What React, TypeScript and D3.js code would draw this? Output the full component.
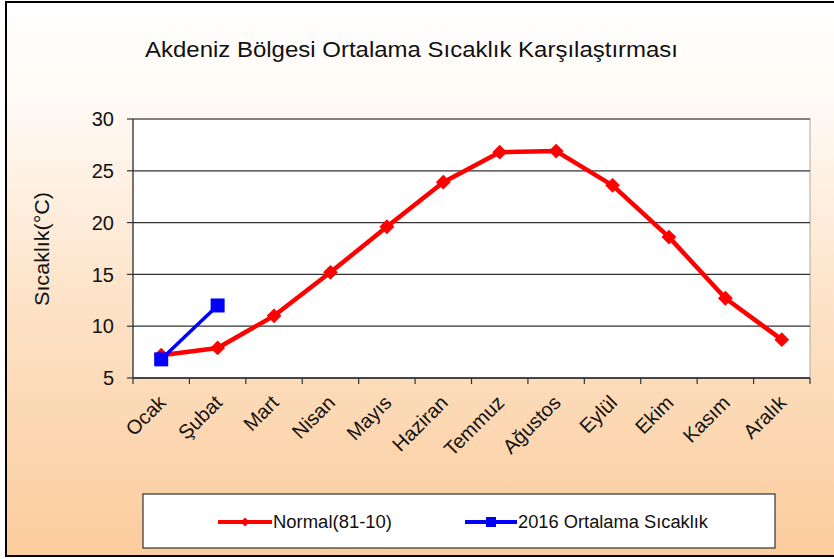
import * as d3 from "d3";

const MONTHS = ["Ocak", "Şubat", "Mart", "Nisan", "Mayıs", "Haziran", "Temmuz", "Ağustos", "Eylül", "Ekim", "Kasım", "Aralık"];
const NORMAL = [7.2, 7.9, 11.0, 15.2, 19.6, 23.9, 26.8, 26.9, 23.6, 18.6, 12.7, 8.7];
const Y2016 = [6.8, 12.0];
const Y_TICKS = [5, 10, 15, 20, 25, 30];

const W = 834;
const H = 559;
const plot = { left: 133, right: 810, top: 119, bottom: 378 };
const FONT = "'Liberation Sans', Arial, sans-serif";

export default function App() {
  const x = d3.scaleBand().domain(MONTHS).range([plot.left, plot.right]);
  const y = d3.scaleLinear().domain([5, 30]).range([plot.bottom, plot.top]);
  const cx = (m: string) => (x(m) ?? 0) + x.bandwidth() / 2;

  const line = d3.line<[string, number]>().x((d) => cx(d[0])).y((d) => y(d[1]));
  const normalPts: [string, number][] = NORMAL.map((v, i) => [MONTHS[i], v]);
  const blue: [string, number][] = Y2016.map((v, i) => [MONTHS[i], v]);
  const diamond = d3.symbol(d3.symbolDiamond2, 140)();

  const boundaries = MONTHS.map((m) => x(m) ?? 0).concat([plot.right]);

  return (
    <div style={{ position: "absolute", left: 0, top: 0 }}>
      <svg width={W} height={H} style={{ display: "block", fontFamily: FONT }}>
        <defs>
          <linearGradient id="bg" x1="0" y1="0" x2="0" y2="1">
            <stop offset="0%" stopColor="#ffffff" />
            <stop offset="18%" stopColor="#fffaf5" />
            <stop offset="55%" stopColor="#fde2c6" />
            <stop offset="100%" stopColor="#fbcc9d" />
          </linearGradient>
        </defs>
        <rect x={0} y={0} width={W} height={H} fill="#ffffff" />
        <rect x={6} y={2} width={W} height={554} fill="url(#bg)" stroke="#000" strokeWidth={2} />

        <text x={145} y={57} fontSize={22} fill="#111" textLength={533} lengthAdjust="spacingAndGlyphs">
          Akdeniz Bölgesi Ortalama  Sıcaklık Karşılaştırması
        </text>

        {/* plot area */}
        <rect x={plot.left} y={plot.top} width={plot.right - plot.left} height={plot.bottom - plot.top}
          fill="#fff" stroke="#aaa" strokeWidth={1} />
        {Y_TICKS.map((t) => (
          <g key={t}>
            <line x1={plot.left} x2={plot.right} y1={y(t)} y2={y(t)} stroke="#333" strokeWidth={1.2} />
            <line x1={plot.left - 6} x2={plot.left} y1={y(t)} y2={y(t)} stroke="#333" strokeWidth={1.2} />
            <text x={plot.left - 19} y={y(t)} dy="0.36em" textAnchor="end" fontSize={20} fill="#111">{t}</text>
          </g>
        ))}
        <line x1={plot.left} x2={plot.left} y1={plot.top} y2={plot.bottom} stroke="#333" strokeWidth={1.2} />
        <line x1={plot.left} x2={plot.right} y1={plot.bottom} y2={plot.bottom} stroke="#333" strokeWidth={1.5} />
        {boundaries.map((b, i) => (
          <line key={i} x1={b} x2={b} y1={plot.bottom} y2={plot.bottom + 6} stroke="#333" strokeWidth={1.2} />
        ))}
        {MONTHS.map((m) => (
          <text key={m} transform={`translate(${cx(m) - 4},${plot.bottom + 16}) rotate(-45)`}
            textAnchor="end" dy="0.7em" fontSize={20} fill="#111">{m}</text>
        ))}

        <text transform={`translate(42,249) rotate(-90)`} textAnchor="middle" dy="0.35em" fontSize={20} fill="#111"
          textLength={114} lengthAdjust="spacingAndGlyphs">
          Sıcaklık(°C)
        </text>

        {/* series */}
        <path d={line(normalPts) ?? ""} fill="none" stroke="#ff0000" strokeWidth={4.5} strokeLinejoin="round" />
        {normalPts.map((d) => (
          <path key={d[0]} d={diamond ?? ""} transform={`translate(${cx(d[0])},${y(d[1])})`} fill="#ff0000" />
        ))}
        <path d={line(blue) ?? ""} fill="none" stroke="#0000ff" strokeWidth={3.5} />
        {blue.map((d) => (
          <rect key={d[0]} x={cx(d[0]) - 7} y={y(d[1]) - 7} width={14} height={14} fill="#0000ff" />
        ))}

        {/* legend */}
        <rect x={143} y={494} width={632} height={54} fill="#fff" stroke="#333" strokeWidth={1.2} />
        <line x1={218} x2={272} y1={522} y2={522} stroke="#ff0000" strokeWidth={4} />
        <path d={d3.symbol(d3.symbolDiamond2, 50)() ?? ""} transform="translate(245,522)" fill="#ff0000" />
        <text x={273} y={522} dy="0.36em" fontSize={18} fill="#111" textLength={119} lengthAdjust="spacingAndGlyphs">Normal(81-10)</text>
        <line x1={465} x2={517} y1={522} y2={522} stroke="#0000ff" strokeWidth={4} />
        <rect x={486} y={517} width={10} height={10} fill="#0000ff" />
        <text x={518} y={522} dy="0.36em" fontSize={18} fill="#111" textLength={190} lengthAdjust="spacingAndGlyphs">2016 Ortalama Sıcaklık</text>
      </svg>
    </div>
  );
}
